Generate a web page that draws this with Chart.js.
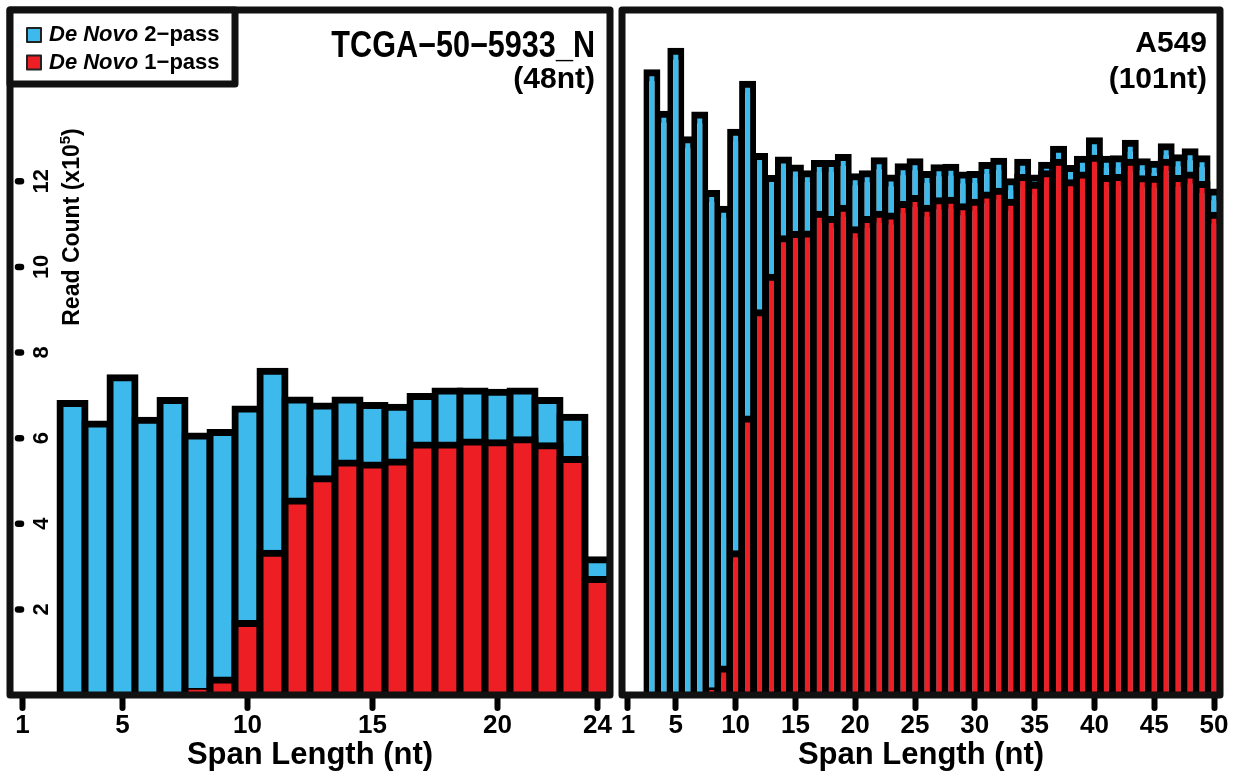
<!DOCTYPE html>
<html>
<head>
<meta charset="utf-8">
<script src="https://cdn.jsdelivr.net/npm/chart.js@4.4.0/dist/chart.umd.min.js"></script>
<style>
  html, body { margin: 0; padding: 0; background: #fff; }
  #wrap { position: relative; width: 1233px; height: 778px; }
  #wrap canvas { position: absolute; top: 0; }
</style>
</head>
<body>
<div id="wrap">
  <canvas id="tcga" width="616" height="778" style="left:0"></canvas>
  <canvas id="a549" width="617" height="778" style="left:616px"></canvas>
</div>
<script>
// Read counts per span length, in units of 1e5 reads.
// "2-pass" is the full bar, "1-pass" is the part found in the first pass.
const spansTCGA = [1, 2, 3, 4, 5, 6, 7, 8, 9, 10, 11, 12, 13, 14, 15, 16, 17, 18, 19, 20, 21, 22, 23, 24];
const twoPassTCGA = [0, 0, 6.81, 6.33, 7.41, 6.42, 6.88, 6.05, 6.13, 6.68, 7.56, 6.89, 6.75, 6.89, 6.76, 6.72, 6.97, 7.10, 7.10, 7.07, 7.10, 6.88, 6.49, 3.16];
const onePassTCGA = [0, 0, 0, 0, 0, 0, 0, 0.08, 0.35, 1.67, 3.31, 4.53, 5.05, 5.42, 5.37, 5.44, 5.84, 5.84, 5.91, 5.89, 5.96, 5.82, 5.50, 2.70];
const xTicksTCGA = [1, 5, 10, 15, 20, 24];

const spansA549 = [1, 2, 3, 4, 5, 6, 7, 8, 9, 10, 11, 12, 13, 14, 15, 16, 17, 18, 19, 20, 21, 22, 23, 24, 25,
  26, 27, 28, 29, 30, 31, 32, 33, 34, 35, 36, 37, 38, 39, 40, 41, 42, 43, 44, 45, 46, 47, 48, 49, 50];
const twoPassA549 = [0, 0, 14.56, 13.59, 15.06, 12.99, 13.57, 11.74, 11.37, 13.17, 14.29, 12.60, 12.09, 12.52, 12.33,
  12.20, 12.44, 12.44, 12.58, 12.13, 12.20, 12.50, 12.10, 12.36, 12.48, 12.18, 12.34, 12.35, 12.17, 12.18,
  12.39, 12.49, 12.01, 12.47, 12.10, 12.40, 12.77, 12.32, 12.54, 12.97, 12.54, 12.55, 12.91, 12.48, 12.42,
  12.83, 12.57, 12.71, 12.55, 11.77];
const onePassA549 = [0, 0, 0, 0, 0, 0, 0, 0.12, 0.63, 3.32, 6.47, 8.95, 9.78, 10.68, 10.78,
  10.79, 11.25, 11.13, 11.39, 10.89, 11.13, 11.25, 11.21, 11.48, 11.62, 11.39, 11.57, 11.58, 11.43, 11.53,
  11.70, 11.79, 11.53, 12.11, 11.93, 12.20, 12.47, 11.99, 12.17, 12.56, 12.09, 12.11, 12.47, 12.08, 12.07,
  12.47, 12.09, 12.17, 11.95, 11.23];
const xTicksA549 = [1, 5, 10, 15, 20, 25, 30, 35, 40, 45, 50];

const yTicks = [2, 4, 6, 8, 10, 12];
const seriesNames = ['De Novo 2\u2212pass', 'De Novo 1\u2212pass'];

const BLUE = '#3db9ec';
const RED = '#ed1f24';
const INK = '#000';
const FONT = '"Liberation Sans", Arial, Helvetica, sans-serif';
const EDGE = 7;

// thick black box around the plot region
const frame = {
  id: 'frame',
  beforeDraw(chart) {
    chart.ctx.lineCap = 'round';
  },
  afterDatasetsDraw(chart) {
    const { ctx, chartArea: a } = chart;
    ctx.save();
    ctx.lineWidth = EDGE;
    ctx.strokeStyle = '#111';
    ctx.lineJoin = 'round';
    ctx.strokeRect(a.left, a.top, a.right - a.left, a.bottom - a.top);
    ctx.restore();
  }
};

// sample name, top right corner
function sampleLabel(lines) {
  return {
    id: 'sampleLabel',
    afterDraw(chart) {
      const { ctx } = chart;
      ctx.save();
      ctx.fillStyle = INK;
      ctx.textAlign = 'right';
      ctx.textBaseline = 'alphabetic';
      for (const l of lines) {
        ctx.save();
        ctx.font = `bold ${l.size}px ${FONT}`;
        ctx.translate(l.x, l.y);
        ctx.scale(l.sx || 1, 1);
        ctx.fillText(l.text, 0, 0);
        ctx.restore();
      }
      ctx.restore();
    }
  };
}

// y ticks and title sit inside the left panel's box
const readCountAxis = {
  id: 'readCountAxis',
  afterDraw(chart) {
    const { ctx, chartArea: a, scales: { y } } = chart;
    ctx.save();
    ctx.strokeStyle = INK;
    ctx.fillStyle = INK;
    ctx.lineWidth = 6.5;
    ctx.lineCap = 'round';
    ctx.font = `bold 22px ${FONT}`;
    ctx.textAlign = 'center';
    ctx.textBaseline = 'alphabetic';
    for (const v of yTicks) {
      const py = y.getPixelForValue(v);
      ctx.beginPath();
      ctx.moveTo(a.left + 8, py);
      ctx.lineTo(a.left + 11, py);
      ctx.stroke();
      ctx.save();
      ctx.translate(a.left + 38, py);
      ctx.rotate(-Math.PI / 2);
      ctx.fillText(String(v), 0, 0);
      ctx.restore();
    }

    // "Read Count (x10^5)"
    const parts = [
      { text: 'Read Count (x10', size: 23, rise: 0 },
      { text: '5', size: 15, rise: 9 },
      { text: ')', size: 23, rise: 0 }
    ];
    let total = 0;
    for (const p of parts) {
      ctx.font = `bold ${p.size}px ${FONT}`;
      p.w = ctx.measureText(p.text).width;
      total += p.w;
    }
    ctx.translate(a.left + 69, 227);
    ctx.rotate(-Math.PI / 2);
    ctx.textAlign = 'left';
    let x = -total / 2;
    for (const p of parts) {
      ctx.font = `bold ${p.size}px ${FONT}`;
      ctx.fillText(p.text, x, -p.rise);
      x += p.w;
    }
    ctx.restore();
  }
};

// boxed legend in the top left corner, "De Novo" in italics
const legendBox = {
  id: 'legendBox',
  afterDraw(chart) {
    const { ctx, chartArea: a } = chart;
    const sets = chart.data.datasets;
    ctx.save();
    ctx.fillStyle = '#fff';
    ctx.fillRect(a.left, a.top, 225, 74);
    ctx.lineWidth = EDGE;
    ctx.lineJoin = 'round';
    ctx.strokeStyle = '#111';
    ctx.strokeRect(a.left, a.top, 225, 74);
    ctx.textBaseline = 'alphabetic';
    ctx.textAlign = 'left';
    sets.forEach((ds, i) => {
      const top = a.top + 18 + i * 27.5;
      ctx.fillStyle = ds.backgroundColor;
      ctx.fillRect(a.left + 17, top, 14, 14);
      ctx.lineWidth = 2;
      ctx.strokeStyle = '#222';
      ctx.strokeRect(a.left + 17, top, 14, 14);
      const italic = 'De Novo';
      const rest = ds.label.slice(italic.length);
      ctx.fillStyle = INK;
      ctx.font = `italic bold 22px ${FONT}`;
      ctx.fillText(italic, a.left + 39, top + 13);
      const w = ctx.measureText(italic).width;
      ctx.font = `bold 22px ${FONT}`;
      ctx.fillText(rest, a.left + 39 + w, top + 13);
    });
    ctx.restore();
  }
};

// bars are one bin wide; the outline straddles the bin edges and the bar top
function histogram(id, spans, twoPass, onePass, xTicks, opts) {
  const bar = {
    borderColor: INK,
    borderWidth: EDGE,
    borderSkipped: 'start',
    inflateAmount: opts.inflate,
    grouped: false,
    categoryPercentage: 1,
    barPercentage: 1
  };
  return new Chart(document.getElementById(id), {
    type: 'bar',
    data: {
      labels: spans,
      datasets: [
        { ...bar, label: seriesNames[0], data: twoPass, backgroundColor: BLUE, order: 2 },
        { ...bar, label: seriesNames[1], data: onePass, backgroundColor: RED, order: 1 }
      ]
    },
    options: {
      responsive: false,
      animation: false,
      events: [],
      layout: { padding: opts.padding },
      plugins: { legend: { display: false }, tooltip: { enabled: false } },
      scales: {
        x: {
          type: 'linear',
          offset: false,
          min: 0.5,
          max: spans.length + 0.5,
          afterBuildTicks: s => { s.ticks = xTicks.map(v => ({ value: v })); },
          afterFit: s => { s.height = 83; },
          grid: { offset: false, drawOnChartArea: false, drawTicks: true, tickLength: 13, tickWidth: 6, tickColor: INK },
          border: { display: false },
          ticks: { color: INK, padding: 2, maxRotation: 0, autoSkip: false, font: { family: FONT, size: 26, weight: 'bold' } },
          title: { display: true, text: 'Span Length (nt)', color: INK, padding: { top: 0, bottom: 4 }, font: { family: FONT, size: 31, weight: 'bold' } }
        },
        y: { display: false, min: 0, max: 16 }
      }
    },
    plugins: opts.plugins
  });
}

histogram('tcga', spansTCGA, twoPassTCGA, onePassTCGA, xTicksTCGA, {
  inflate: 3.5,
  padding: { left: 10, right: 6, top: 10, bottom: 0 },
  plugins: [frame, readCountAxis, legendBox, sampleLabel([
    { text: 'TCGA\u221250\u22125933_N', x: 595, y: 57, size: 36, sx: 0.85 },
    { text: '(48nt)', x: 595, y: 88, size: 30 }
  ])]
});

histogram('a549', spansA549, twoPassA549, onePassA549, xTicksA549, {
  inflate: 2.5,
  padding: { left: 6, right: 13, top: 10, bottom: 0 },
  plugins: [frame, sampleLabel([
    { text: 'A549', x: 591, y: 52, size: 30 },
    { text: '(101nt)', x: 591, y: 88, size: 30 }
  ])]
});
</script>
</body>
</html>
